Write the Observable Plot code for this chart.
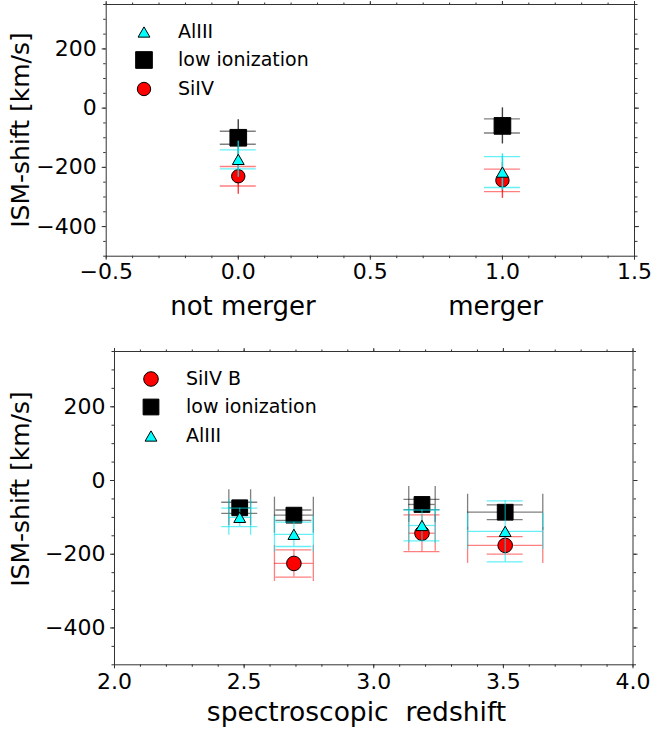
<!DOCTYPE html>
<html><head><meta charset="utf-8">
<script src="https://cdn.jsdelivr.net/npm/d3@7"></script>
<script src="https://cdn.jsdelivr.net/npm/@observablehq/plot@0.6"></script>
<style>
body{margin:0;background:#fff;font-family:"DejaVu Sans",sans-serif;}
#fig{position:relative;width:652px;height:735px;overflow:hidden;background:#fff;}
.lbl{position:absolute;white-space:pre;color:#000;line-height:1;font-family:"DejaVu Sans",sans-serif;}
</style></head><body><div id="fig"></div>
<script>
// ---------- top panel: merger classification ----------
const mergerX = [0, 1];
const mergerLabels = ["not merger", "merger"];
const topLowIon = [-100, -60];
const topLowIonErr = [22, 24];
const topSiIV = [-230, -244];
const topSiIVErr = [33, 38];
const topAlIII = [-173, -216];
const topAlIIIErr = [32, 52];
const topLegend = ["AlIII", "low ionization", "SiIV"];

// ---------- bottom panel: redshift bins ----------
const zBins = [2.483, 2.692, 3.186, 3.507];
const zErr = [0.042, 0.075, 0.051, 0.145];
const botSiIVB = [null, -225, -143, -176];
const botSiIVBErr = [null, 37, 50, 24];
const botLowIon = [-74, -94, -65, -86];
const botLowIonErr = [15, 14, 14, 20];
const botAlIII = [-100, -146, -122, -138];
const botAlIIIErr = [25, 33, 42, 83];
const botLegend = ["SiIV B", "low ionization", "AlIII"];

// ---------- axes ----------
const yTicks = [-400, -200, 0, 200];
const topXTicks = [-0.5, 0, 0.5, 1, 1.5];
const botXTicks = [2, 2.5, 3, 3.5, 4];
const yLabel = "ISM-shift [km/s]";
const botXLabel = "spectroscopic  redshift";

const fig = document.getElementById("fig");
const mk = (xs, vs, es, xes) => xs.map((x, i) => ({x, v: vs[i], e: es[i], xe: xes ? xes[i] : 0})).filter(d => d.v != null);
const fmt = digits => d => (d < 0 ? "\u2212" : "") + Math.abs(d).toFixed(digits);

function errMarks(rows, color, op, cap) {
  const capsY = rows.flatMap(d => [{x: d.x, y: d.v - d.e}, {x: d.x, y: d.v + d.e}]);
  const capsX = rows.flatMap(d => [{x: d.x - d.xe, y: d.v}, {x: d.x + d.xe, y: d.v}]);
  const st = {stroke: color, strokeOpacity: op, strokeWidth: 1.3};
  return [
    Plot.ruleY(rows.filter(d => d.xe > 0), {y: "v", x1: d => d.x - d.xe, x2: d => d.x + d.xe, ...st}),
    Plot.ruleX(rows, {x: "x", y1: d => d.v - d.e, y2: d => d.v + d.e, ...st}),
    Plot.ruleY(capsY, {y: "y", x1: "x", x2: "x", insetLeft: -cap, insetRight: -cap, ...st}),
    Plot.ruleX(capsX, {x: "x", y1: "y", y2: "y", insetTop: -cap, insetBottom: -cap, ...st})
  ];
}

function axes(xTicks, xMinor, xPad, yPad) {
  const yMinor = d3.range(-500, 351, 50);
  const ln = {stroke: "#333", strokeWidth: 1};
  return [
    Plot.axisX(xMinor, {anchor: "bottom", tickSize: 2.5, fill: "none", label: null, ...ln}),
    Plot.axisX(xMinor, {anchor: "top", tickSize: 2.5, fill: "none", label: null, ...ln}),
    Plot.axisY(yMinor, {anchor: "left", tickSize: 2.5, fill: "none", label: null, ...ln}),
    Plot.axisY(yMinor, {anchor: "right", tickSize: 2.5, fill: "none", label: null, ...ln}),
    Plot.axisX(xTicks, {anchor: "top", tickSize: 4, fill: "none", label: null, ...ln}),
    Plot.axisY(yTicks, {anchor: "right", tickSize: 4, fill: "none", label: null, ...ln}),
    Plot.axisX(xTicks, {anchor: "bottom", tickSize: 4, tickPadding: xPad, tickFormat: fmt(1), fontSize: 22, fill: "#000", label: null, ...ln}),
    Plot.axisY(yTicks, {anchor: "left", tickSize: 4, tickPadding: yPad, tickFormat: fmt(0), fontSize: 22, fill: "#000", label: null, ...ln}),
    Plot.frame({stroke: "#333", strokeWidth: 1})
  ];
}

function dots(rows, kind, r, fill) {
  const o = {x: "x", y: "v", symbol: kind, r, fill, stroke: "#000", strokeWidth: 1};
  if (kind === "triangle") o.dy = 0.389 * r;
  return Plot.dot(rows, o);
}

// ---------- top plot ----------
const tLow = mk(mergerX, topLowIon, topLowIonErr);
const tSi = mk(mergerX, topSiIV, topSiIVErr);
const tAl = mk(mergerX, topAlIII, topAlIIIErr);
const topPlot = Plot.plot({
  width: 652, height: 300,
  marginLeft: 105.7, marginRight: 18, marginTop: 4, marginBottom: 44.3,
  x: {domain: [-0.5, 1.5], axis: null},
  y: {domain: [-500, 350], axis: null},
  style: {position: "absolute", left: "0px", top: "0px", fontFamily: "DejaVu Sans", background: "transparent", color: "#000"},
  marks: [
    ...errMarks(tLow, "#000", 0.5, 18), dots(tLow, "square", 9.4, "#000"),
    ...errMarks(tSi, "#ff0000", 0.5, 18), dots(tSi, "circle", 6.7, "#ff0000"),
    ...errMarks(tAl, "#00e5ee", 0.6, 18), dots(tAl, "triangle", 4.4, "#00ffff"),
    ...axes(topXTicks, d3.range(-0.5, 1.5001, 0.1), 3.5, 5.5)
  ]
});
fig.appendChild(topPlot);

// ---------- bottom plot ----------
const bSi = mk(zBins, botSiIVB, botSiIVBErr, zErr);
const bLow = mk(zBins, botLowIon, botLowIonErr, zErr);
const bAl = mk(zBins, botAlIII, botAlIIIErr, zErr);
const botPlot = Plot.plot({
  width: 652, height: 380,
  marginLeft: 114, marginRight: 19.5, marginTop: 31, marginBottom: 35.7,
  x: {domain: [2, 4], axis: null},
  y: {domain: [-500, 350], axis: null},
  style: {position: "absolute", left: "0px", top: "320px", fontFamily: "DejaVu Sans", background: "transparent", color: "#000"},
  marks: [
    ...errMarks(bSi, "#ff0000", 0.5, 18), dots(bSi, "circle", 7.3, "#ff0000"),
    ...errMarks(bLow, "#000", 0.5, 18), dots(bLow, "square", 8.9, "#000"),
    ...errMarks(bAl, "#00e5ee", 0.6, 18), dots(bAl, "triangle", 4.4, "#00ffff"),
    ...axes(botXTicks, d3.range(2, 4.0001, 0.1), 4.5, 5)
  ]
});
fig.appendChild(botPlot);

// ---------- legends ----------
const svgNS = "http://www.w3.org/2000/svg";
const symMap = {circle: d3.symbolCircle, square: d3.symbolSquare, triangle: d3.symbolTriangle};
function legend(labels, kinds, rs, fills, sx, tx, ys, fs) {
  labels.forEach((lab, i) => {
    const s = document.createElementNS(svgNS, "svg");
    s.setAttribute("width", 30); s.setAttribute("height", 30);
    s.style.position = "absolute"; s.style.left = (sx - 15) + "px"; s.style.top = (ys[i] - 15) + "px";
    const p = document.createElementNS(svgNS, "path");
    p.setAttribute("d", d3.symbol(symMap[kinds[i]], Math.PI * rs[i] * rs[i])());
    const dy = kinds[i] === "triangle" ? 0.389 * rs[i] : 0;
    p.setAttribute("transform", `translate(15,${15 + dy})`);
    p.setAttribute("fill", fills[i]); p.setAttribute("stroke", "#000"); p.setAttribute("stroke-width", 1);
    s.appendChild(p); fig.appendChild(s);
    const t = document.createElement("div");
    t.className = "lbl"; t.textContent = lab;
    t.style.left = tx + "px"; t.style.top = (ys[i] - fs / 2) + "px"; t.style.fontSize = fs + "px";
    fig.appendChild(t);
  });
}
legend(topLegend, ["triangle", "square", "circle"], [4.4, 9.4, 6.7], ["#00ffff", "#000", "#ff0000"], 143.6, 178, [31.5, 59.5, 88.5], 19);
legend(botLegend, ["circle", "square", "triangle"], [7.3, 8.9, 4.4], ["#ff0000", "#000", "#00ffff"], 151, 186, [378.5, 406.5, 435.5], 19);

// ---------- text labels ----------
function label(text, cx, baseline, fs) {
  const t = document.createElement("div");
  t.className = "lbl"; t.textContent = text;
  t.style.fontSize = fs + "px";
  t.style.left = cx + "px"; t.style.top = (baseline - 0.846 * fs) + "px";
  t.style.transform = "translateX(-50%)";
  fig.appendChild(t);
}
function vlabel(text, cx, cy, fs) {
  const t = document.createElement("div");
  t.className = "lbl"; t.textContent = text;
  t.style.fontSize = fs + "px";
  t.style.left = cx + "px"; t.style.top = cy + "px";
  t.style.transform = "translate(-50%,-50%) rotate(-90deg)";
  fig.appendChild(t);
}
label(mergerLabels[0], 243, 315, 26);
label(mergerLabels[1], 495.5, 315, 26);
label(botXLabel, 356.5, 721.7, 26.5);
vlabel(yLabel, 20, 129.5, 25);
vlabel(yLabel, 20, 489, 25);
</script></body></html>
